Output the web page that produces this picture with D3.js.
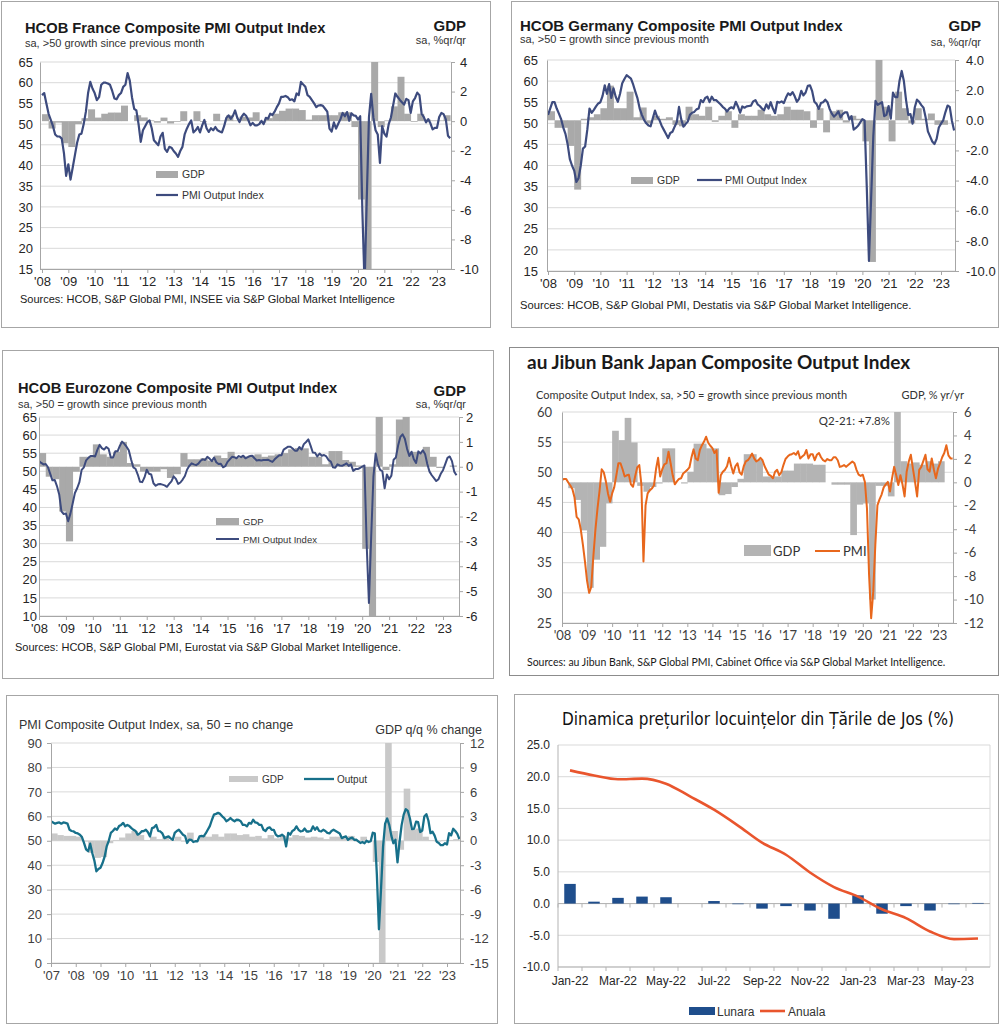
<!DOCTYPE html>
<html>
<head>
<meta charset="utf-8">
<script src="https://cdn.jsdelivr.net/npm/d3@7"></script>
<style>
body { margin: 0; background: #fff; }
</style>
</head>
<body>
<svg id="board" width="1000" height="1024"></svg>
<script>
// ---------- data ----------
// monthly PMI from Jan of start year, quarterly GDP from Q1 of start year
var francePmi = [
    57.0, 57.5, 55.0, 52.5, 51.0, 49.5, 47.5, 47.0, 47.0, 46.5, 43.0, 37.5,
    40.3, 36.6, 39.5, 42.5, 45.5, 47.5, 47.7, 50.0, 53.0, 57.5, 60.2, 58.6,
    57.5, 55.8, 56.5, 59.5, 60.0, 60.0, 59.8, 59.5, 58.0, 56.2, 56.0, 57.0,
    57.5, 59.0, 59.5, 62.3, 60.5, 56.5, 53.7, 53.3, 50.0, 45.7, 48.5, 49.5,
    50.5, 50.9, 49.0, 46.1, 45.5, 44.9, 47.0, 47.9, 44.0, 43.3, 44.5, 44.3,
    43.5, 42.9, 42.1, 43.5, 44.5, 47.5, 48.9, 50.0, 50.9, 48.0, 48.5, 49.3,
    48.0, 49.7, 51.0, 49.0, 48.1, 49.0, 48.5, 49.3, 48.5, 48.2, 48.0, 49.5,
    51.5, 52.1, 51.3, 52.0, 53.3, 51.5, 50.5, 51.8, 52.5, 52.0, 51.0, 49.7,
    50.3, 49.7, 49.7, 50.0, 50.8, 50.0, 51.5, 51.3, 52.5, 52.2, 53.0, 54.1,
    55.0, 56.6, 56.6, 56.8, 56.5, 55.8, 56.0, 55.5, 57.4, 57.0, 60.2, 59.6,
    59.0, 57.0, 56.6, 55.8, 55.0, 54.1, 54.5, 54.6, 54.4, 53.7, 53.0, 48.9,
    48.2, 50.4, 48.9, 50.1, 51.2, 52.7, 51.9, 52.9, 50.8, 52.6, 52.1, 52.0,
    51.1, 51.9, 28.9, 11.1, 32.1, 51.7, 57.3, 51.6, 48.5, 47.5, 40.6, 49.5,
    47.7, 47.0, 50.0, 51.6, 54.5, 57.4, 56.6, 55.9, 55.3, 54.7, 56.1, 55.8,
    52.7, 55.5, 56.3, 57.6, 57.0, 52.5, 51.7, 50.4, 51.2, 50.2, 48.7, 49.1,
    49.1, 51.7, 52.7, 52.4, 51.2, 47.2, 46.6
];
var franceGdp = [
    0.47, -0.5, -0.1, -1.5,   -1.75, -0.2, 0.2, 0.8,    0.24, 0.5, 0.58, 0.58,
    1.05, 0.0, 0.4, 0.25,     0.05, -0.1, 0.24, -0.16,  -0.05, 0.67, 0.0, 0.67,
    -0.05, 0.0, 0.5, 0.05,    0.4, 0.05, 0.3, 0.25,     0.6, -0.1, 0.2, 0.5,
    0.7, 0.85, 0.85, 0.75,    0.1, 0.4, 0.4, 0.4,       0.4, 0.6, 0.6, -0.4,
    -5.3, -13.5, 18.5, -0.4,  0.05, 1.0, 3.0, 0.5,      -0.05, 0.5, 0.1, 0.05,
    0.05, 0.4
];

var germanyPmi = [
    52.0, 53.5, 55.0, 55.0, 53.5, 52.3, 51.0, 49.0, 47.5, 45.0, 41.5, 40.0,
    38.8, 36.1, 37.0, 40.0, 44.0, 44.5, 48.5, 53.5, 52.5, 53.2, 54.0, 54.7,
    55.0, 56.5, 59.0, 57.0, 59.3, 56.0, 58.3, 56.3, 55.1, 57.0, 59.5, 60.5,
    61.4, 61.0, 60.6, 59.2, 57.5, 55.9, 53.5, 52.0, 50.8, 50.0, 49.5, 49.3,
    51.2, 53.0, 51.5, 50.8, 49.5, 48.5, 47.5, 46.5, 47.7, 48.0, 49.2, 50.3,
    53.9, 51.0, 49.2, 49.8, 50.4, 52.0, 52.5, 52.7, 53.3, 53.5, 55.5, 55.0,
    56.0, 56.3, 55.0, 56.3, 55.5, 55.5, 55.0, 54.5, 53.9, 53.5, 52.8, 53.5,
    53.8, 53.5, 55.1, 54.0, 52.5, 54.0, 53.7, 54.0, 54.1, 54.2, 55.2, 55.5,
    54.5, 54.1, 53.5, 53.1, 54.5, 53.5, 55.0, 53.5, 52.4, 55.1, 54.9, 55.2,
    54.8, 56.1, 57.1, 56.7, 57.4, 56.4, 55.1, 55.8, 57.7, 56.6, 57.3, 58.9,
    59.0, 57.6, 55.1, 54.6, 53.4, 54.8, 55.0, 55.6, 55.0, 53.4, 52.3, 51.6,
    52.1, 52.8, 51.4, 52.2, 52.6, 52.6, 50.9, 51.7, 48.5, 48.9, 49.4, 50.2,
    51.0, 50.7, 35.0, 17.4, 32.3, 47.0, 55.3, 54.4, 54.7, 55.0, 51.7, 52.0,
    54.1, 51.1, 57.3, 56.2, 56.2, 60.1, 62.4, 60.0, 55.5, 52.0, 52.2, 49.9,
    53.8, 55.6, 55.1, 54.3, 53.7, 51.3, 48.1, 46.9, 45.7, 45.1, 46.3, 49.0,
    49.9, 50.7, 52.6, 54.2, 53.9, 50.6, 48.3
];
var germanyGdp = [
    0.6, -0.5, -0.5, -1.7,    -4.6, 0.1, 0.2, 0.4,      0.8, 2.3, 0.8, 0.8,
    1.9, 0.2, 0.85, -0.2,     0.3, 0.1, 0.2, -0.3,      -0.4, 0.9, 0.4, 0.3,
    0.9, -0.1, 0.3, 0.6,      -0.5, 0.4, 0.3, 0.3,      0.7, 0.4, 0.3, 0.4,
    0.9, 0.7, 0.7, 0.6,       -0.5, 0.8, -0.8, 0.6,     0.7, -0.15, 0.3, 0.1,
    -1.4, -9.4, 8.5, 0.9,     -1.4, 1.9, 0.8, -0.2,     0.8, 0.1, 0.45, -0.3,
    -0.3, 0.0
];

var eurozonePmi = [
    52.8, 52.3, 51.9, 52.0, 51.1, 49.3, 47.5, 47.6, 45.9, 43.6, 38.9, 38.2,
    38.3, 36.2, 38.3, 41.1, 44.0, 45.3, 47.0, 50.4, 51.1, 53.0, 53.7, 54.2,
    54.2, 54.1, 55.9, 57.3, 56.4, 56.0, 56.7, 56.2, 53.8, 53.8, 55.5, 55.5,
    57.0, 58.2, 57.6, 56.8, 55.8, 53.3, 51.1, 50.7, 49.1, 47.1, 47.0, 48.3,
    50.4, 49.3, 49.1, 46.7, 46.0, 46.4, 46.5, 46.3, 46.1, 45.7, 46.5, 47.2,
    48.6, 47.9, 46.5, 46.9, 47.7, 48.7, 50.5, 51.5, 52.2, 51.9, 51.7, 52.1,
    52.9, 53.3, 53.1, 54.0, 53.5, 52.8, 53.8, 52.5, 52.0, 52.1, 51.1, 51.4,
    52.6, 53.3, 54.0, 53.9, 53.6, 54.2, 53.9, 54.3, 53.6, 53.9, 54.2, 54.3,
    53.6, 53.0, 53.1, 53.0, 53.1, 53.1, 53.2, 52.9, 52.6, 53.3, 53.9, 54.4,
    54.4, 56.0, 56.4, 56.8, 56.8, 56.3, 55.7, 55.7, 56.7, 56.0, 57.5, 58.1,
    58.8, 57.1, 55.2, 55.1, 54.1, 54.9, 54.3, 54.5, 54.1, 53.1, 52.7, 51.1,
    51.0, 51.9, 51.6, 51.5, 51.8, 52.2, 51.5, 51.9, 50.1, 50.6, 50.6, 50.9,
    51.3, 51.6, 29.7, 13.6, 31.9, 48.5, 54.9, 51.9, 50.4, 50.0, 45.3, 49.1,
    47.8, 48.8, 53.2, 53.8, 57.1, 59.5, 60.2, 59.0, 56.2, 54.2, 55.4, 53.3,
    52.3, 55.5, 54.9, 55.8, 54.8, 52.0, 49.9, 48.9, 48.1, 47.3, 47.8, 49.3,
    50.3, 52.0, 53.7, 54.1, 52.8, 49.9, 48.9
];
var eurozoneGdp = [
    0.55, -0.4, -0.5, -1.8,   -3.0, -0.2, 0.4, 0.4,     0.9, 0.5, 0.4, 0.6,
    1.0, 0.15, 0.1, -0.2,     -0.2, -0.2, -0.1, -0.45,  -0.3, 0.55, 0.3, 0.3,
    0.35, 0.25, 0.45, 0.35,   0.6, 0.35, 0.4, 0.45,     0.5, 0.4, 0.45, 0.5,
    0.55, 0.7, 0.75, 0.74,    0.4, 0.4, 0.1, 0.63,      0.63, 0.27, 0.2, 0.05,
    -3.3, -11.5, 12.5, -0.13, 0.1, 1.9, 2.1, 0.6,       0.6, 0.8, 0.4, -0.05,
    0.0, 0.05
];

var japanPmi = [
    48.7, 48.9, 48.9, 48.3, 47.8, 47.2, 45.8, 42.6, 42.2, 40.5, 38.0, 35.2,
    32.0, 30.0, 31.0, 36.0, 40.5, 44.0, 47.0, 50.5, 50.0, 48.5, 46.5, 45.1,
    46.5, 47.5, 49.5, 51.5, 51.5, 50.5, 49.3, 49.5, 49.6, 48.0, 47.6, 49.3,
    50.8, 51.2, 48.0, 35.2, 44.5, 46.5, 47.0, 47.3, 47.8, 50.5, 52.4, 49.3,
    50.5, 51.3, 51.5, 53.4, 51.5, 49.5, 48.0, 48.5, 48.9, 49.0, 49.8, 50.1,
    50.4, 50.8, 52.5, 53.8, 52.3, 52.0, 53.7, 54.5, 55.1, 55.9, 54.9, 54.4,
    54.0, 53.2, 53.7, 46.6, 49.5, 50.1, 50.4, 51.0, 52.4, 51.0, 49.8, 51.0,
    51.5, 50.0, 49.6, 51.0, 51.8, 52.0, 52.5, 53.1, 52.3, 51.8, 52.0, 52.4,
    52.0, 51.0, 50.3, 49.6, 49.4, 49.0, 50.1, 50.4, 49.5, 50.0, 51.2, 52.2,
    52.6, 52.9, 53.0, 53.2, 52.9, 53.5, 52.3, 52.6, 52.9, 53.7, 52.3, 53.0,
    53.0, 52.0, 52.9, 53.2, 52.5, 52.0, 51.8, 52.2, 52.0, 52.0, 52.5, 52.5,
    52.0, 50.9, 51.0, 51.2, 50.9, 51.2, 51.5, 51.8, 51.5, 50.4, 49.6, 49.4,
    49.6, 48.4, 44.0, 33.0, 25.8, 30.2, 38.0, 44.5, 45.5, 46.3, 47.5, 48.0,
    48.4, 46.8, 49.0, 50.9, 49.5, 47.9, 49.5, 48.0, 46.0, 50.1, 51.8, 52.9,
    50.6, 48.4, 46.0, 50.4, 50.9, 51.9, 52.9, 50.5, 50.1, 52.3, 50.5, 49.0,
    50.6, 51.5, 52.5, 53.2, 54.5, 52.8, 52.3, 52.3
];
var japanGdp = [
    0.0, -0.5, -1.5, -4.1,    -9.0, -6.6, -5.5, -1.8,   4.4, 3.6, 5.5, 3.4,
    -0.3, -0.8, -0.4, -0.1,   2.9, 2.9, 0.0, -0.1,      0.9, 3.3, 3.3, 2.9,
    2.9, -1.1, -1.0, -0.4,    0.3, 2.4, 2.4, 1.9,       0.5, 0.5, 0.5, 1.0,
    1.0, 1.6, 1.6, 1.6,       1.5, 1.5, 0.0, -0.2,      -0.2, -0.2, -4.5, -1.9,
    -1.8, -10.0, -0.3, -0.3,  -1.2, 7.8, 1.8, 1.6,      1.7, 1.5, 1.8, 1.6,
    1.8
];

var ukPmi = [
    58.0, 57.5, 57.0, 57.3, 57.5, 57.0, 57.5, 57.3, 57.0, 54.5, 54.0, 53.8,
    53.2, 53.0, 52.5, 51.5, 49.1, 46.5, 45.7, 48.8, 45.0, 42.0, 37.5, 38.5,
    39.0, 40.9, 43.5, 47.7, 50.0, 53.2, 54.0, 55.0, 54.5, 56.0, 56.5, 57.3,
    55.9, 56.5, 56.0, 55.2, 54.5, 54.0, 52.5, 53.0, 53.9, 54.0, 54.5, 53.5,
    51.8, 55.2, 55.5, 56.5, 54.0, 53.8, 53.0, 51.1, 51.5, 51.8, 51.0, 50.4,
    53.2, 54.0, 54.5, 53.5, 52.5, 52.0, 49.1, 50.5, 50.4, 49.5, 49.8, 49.8,
    51.8, 52.0, 51.8, 53.0, 54.5, 56.0, 58.5, 60.7, 61.0, 61.4, 61.0, 60.0,
    59.3, 58.0, 58.5, 59.3, 58.5, 58.0, 58.6, 58.5, 58.0, 56.5, 56.5, 55.9,
    57.3, 57.0, 58.6, 57.5, 57.3, 56.5, 56.5, 54.5, 54.0, 55.2, 55.5, 54.5,
    54.5, 52.5, 51.8, 52.0, 52.5, 51.8, 47.7, 53.2, 52.5, 54.0, 54.5, 55.9,
    54.5, 53.8, 54.0, 55.0, 53.8, 53.8, 54.0, 55.9, 54.5, 55.5, 54.0, 53.8,
    54.5, 54.0, 53.2, 53.0, 54.0, 54.5, 54.0, 53.5, 53.0, 51.1, 51.5, 51.8,
    50.4, 51.0, 51.3, 50.4, 50.5, 49.8, 49.1, 49.5, 49.0, 50.0, 49.5, 49.8,
    53.3, 53.0, 36.0, 13.8, 30.0, 47.7, 57.0, 59.1, 56.5, 52.1, 49.0, 50.4,
    41.2, 49.6, 56.4, 60.7, 62.9, 62.2, 59.2, 54.8, 54.9, 57.8, 57.6, 53.6,
    54.2, 59.9, 60.9, 58.2, 53.1, 53.7, 52.1, 49.6, 49.1, 48.2, 48.2, 49.0,
    48.5, 53.1, 52.2, 54.9, 54.0, 52.8, 50.7
];
var ukGdp = [
    0.9, 0.7, 0.6, 0.6,       0.5, -0.1, -1.5, -2.1,    -2.0, -0.3, 0.1, 0.4,
    0.9, 1.2, 0.7, 0.1,       0.5, 0.2, 0.5, 0.1,       0.5, -0.1, 1.0, 0.0,
    0.6, 0.5, 0.8, 0.5,       0.9, 0.9, 0.7, 0.8,       0.5, 0.6, 0.3, 0.7,
    0.3, 0.6, 0.4, 0.7,       0.6, 0.4, 0.5, 0.4,       0.2, 0.5, 0.5, 0.3,
    0.6, -0.1, 0.5, 0.0,      -2.6, -19.4, 16.9, 1.2,   -1.1, 6.4, 1.4, 1.5,
    0.5, 0.1, -0.1, 0.1,      0.1, 0.2
];

var nlMonths = ["Jan-22", "Feb-22", "Mar-22", "Apr-22", "May-22", "Jun-22",
    "Jul-22", "Aug-22", "Sep-22", "Oct-22", "Nov-22", "Dec-22",
    "Jan-23", "Feb-23", "Mar-23", "Apr-23", "May-23", "Jun-23"];
var nlTickLabels = ["Jan-22", "Mar-22", "May-22", "Jul-22", "Sep-22", "Nov-22", "Jan-23", "Mar-23", "May-23"];
var nlLunara = [3.1, 0.3, 0.9, 1.1, 1.0, 0.0, 0.4, -0.1, -0.8, -0.4, -1.1, -2.4, 1.3, -1.6, -0.4, -1.1, -0.1, 0.1];
var nlAnuala = [21.0, 20.2, 19.6, 19.7, 18.9, 16.9, 14.8, 12.3, 9.6, 7.7, 4.9, 2.6, 1.1, -0.9, -2.3, -4.4, -5.6, -5.5];

// tick values
var yearsFrom08 = [2008, 2009, 2010, 2011, 2012, 2013, 2014, 2015, 2016, 2017, 2018, 2019, 2020, 2021, 2022, 2023];
var yearsFrom07 = [2007, 2008, 2009, 2010, 2011, 2012, 2013, 2014, 2015, 2016, 2017, 2018, 2019, 2020, 2021, 2022, 2023];
var ticks15to65 = [15, 20, 25, 30, 35, 40, 45, 50, 55, 60, 65];
var ticks10to65 = [10, 15, 20, 25, 30, 35, 40, 45, 50, 55, 60, 65];
var ticksGdpFrDe = [-10, -8, -6, -4, -2, 0, 2, 4];
var ticksGdpEz = [-6, -5, -4, -3, -2, -1, 0, 1, 2];
var ticksJpPmi = [25, 30, 35, 40, 45, 50, 55, 60];
var ticksJpGdp = [-12, -10, -8, -6, -4, -2, 0, 2, 4, 6];
var ticksUkPmi = [0, 10, 20, 30, 40, 50, 60, 70, 80, 90];
var ticksUkGdp = [-15, -12, -9, -6, -3, 0, 3, 6, 9, 12];
var ticksNl = [-10, -5, 0, 5, 10, 15, 20, 25];

// ---------- drawing ----------
var ARIAL = "'Liberation Sans', Arial, sans-serif";
var CALIBRI = "Lato, 'Open Sans', sans-serif";

var svg = d3.select("#board");
svg.append("rect").attr("width", 1000).attr("height", 1024).attr("fill", "#fff");

var yearLabel = function(d) { return "'" + String(d).slice(2); };
var numLabel = function(dec) { return function(d) { return d.toFixed(dec); }; };

var addText = function(g, x, y, str, size, opts)
{
    opts = opts || {};
    return g.append("text")
        .attr("x", x)
        .attr("y", y)
        .attr("font-size", size)
        .attr("font-family", opts.font || ARIAL)
        .attr("font-weight", opts.bold ? "bold" : "normal")
        .attr("text-anchor", opts.anchor || "start")
        .attr("fill", opts.color || "#1a1a1a")
        .text(str);
}

var styleAxis = function(sel, p)
{
    sel.attr("font-size", p.tickFont).attr("font-family", p.font);
    sel.select(".domain").attr("stroke", p.axisColor);
    sel.selectAll(".tick line").attr("stroke", p.axisColor);
    sel.selectAll(".tick text").attr("fill", p.tickColor);
}

var drawPmiPanel = function(p)
{
    var g = svg.append("g").classed("panel", true);

    g.append("rect")
        .attr("x", p.box[0] + 0.5)
        .attr("y", p.box[1] + 0.5)
        .attr("width", p.box[2] - p.box[0])
        .attr("height", p.box[3] - p.box[1])
        .attr("fill", "#fff")
        .attr("stroke", p.borderColor);

    var xScale = d3.scaleLinear().domain([p.yearA, p.yearB]).range([p.xA, p.xB]);
    var yLeft = d3.scaleLinear().domain(p.leftDomain).range([p.plot.bottom, p.plot.top]);
    var yRight = d3.scaleLinear().domain(p.rightDomain).range([p.plot.bottom, p.plot.top]);

    // horizontal grid
    g.append("g")
        .selectAll("line")
        .data(p.leftTicks)
        .enter()
        .append("line")
        .attr("x1", p.plot.left)
        .attr("x2", p.plot.right)
        .attr("y1", function(d) { return yLeft(d); })
        .attr("y2", function(d) { return yLeft(d); })
        .attr("stroke", "#D9D9D9");

    var clipId = "clip-" + p.id;
    g.append("clipPath")
        .attr("id", clipId)
        .append("rect")
        .attr("x", p.plot.left)
        .attr("y", p.plot.top)
        .attr("width", p.plot.right - p.plot.left)
        .attr("height", p.plot.bottom - p.plot.top);
    var marks = g.append("g").attr("clip-path", "url(#" + clipId + ")");

    var quarters = p.gdp.map(function(v, i) { return {t: p.gdpStart + i / 4, v: v}; });
    marks.append("g")
        .selectAll("rect")
        .data(quarters)
        .enter()
        .append("rect")
        .attr("x", function(d) { return xScale(d.t); })
        .attr("width", function(d) { return xScale(d.t + 0.25) - xScale(d.t) + 0.4; })
        .attr("y", function(d) { return Math.min(yRight(0), yRight(d.v)); })
        .attr("height", function(d) { return Math.abs(yRight(d.v) - yRight(0)); })
        .attr("fill", p.barColor);

    var months = p.pmi.map(function(v, i) { return {t: p.pmiStart + i / 12, v: v}; });
    var line = d3.line()
        .x(function(d) { return xScale(d.t); })
        .y(function(d) { return yLeft(d.v); });
    marks.append("path")
        .datum(months)
        .attr("d", line)
        .attr("fill", "none")
        .attr("stroke", p.lineColor)
        .attr("stroke-width", p.lineWidth)
        .attr("stroke-linejoin", "round");

    // axes
    var leftAxis = d3.axisLeft(yLeft)
        .tickValues(p.leftTicks)
        .tickSize(p.leftTickSize)
        .tickSizeOuter(0)
        .tickPadding(p.leftPad);
    g.append("g")
        .attr("transform", "translate(" + p.plot.left + ",0)")
        .call(leftAxis)
        .call(styleAxis, p);

    var rightAxis = d3.axisRight(yRight)
        .tickValues(p.rightTicks)
        .tickFormat(numLabel(p.rightDec))
        .tickSize(4)
        .tickSizeOuter(0)
        .tickPadding(p.rightPad);
    g.append("g")
        .attr("transform", "translate(" + p.plot.right + ",0)")
        .call(rightAxis)
        .call(styleAxis, p);

    var bottomAxis = d3.axisBottom(xScale)
        .tickValues(p.years)
        .tickFormat(yearLabel)
        .tickSize(4)
        .tickSizeOuter(0)
        .tickPadding(p.bottomPad);
    var gb = g.append("g")
        .attr("transform", "translate(0," + p.plot.bottom + ")")
        .call(bottomAxis)
        .call(styleAxis, p);
    gb.select(".domain").remove();
    g.append("line")
        .attr("x1", p.plot.left)
        .attr("x2", p.plot.right)
        .attr("y1", p.plot.bottom + 0.5)
        .attr("y2", p.plot.bottom + 0.5)
        .attr("stroke", p.axisColor);

    // legend
    var lg = p.legend;
    g.append("rect")
        .attr("x", lg.bar[0]).attr("y", lg.bar[1])
        .attr("width", lg.bar[2]).attr("height", lg.bar[3])
        .attr("fill", p.barColor);
    addText(g, lg.barText[0], lg.barText[1], lg.labels[0], lg.size, {font: p.font, color: "#333"});
    g.append("line")
        .attr("x1", lg.line[0]).attr("x2", lg.line[1])
        .attr("y1", lg.line[2]).attr("y2", lg.line[2])
        .attr("stroke", p.lineColor)
        .attr("stroke-width", p.lineWidth);
    addText(g, lg.lineText[0], lg.lineText[1], lg.labels[1], lg.size, {font: p.font, color: "#333"});

    p.texts.forEach(function(t)
    {
        addText(g, t.x, t.y, t.s, t.size, {font: p.font, bold: t.bold, anchor: t.anchor, color: t.color});
    });
}

var basePanel = {
    font: ARIAL, tickFont: 13, tickColor: "#262626", axisColor: "#A6A6A6",
    borderColor: "#A6A6A6", lineWidth: 2.2, leftTickSize: 0, bottomPad: 4
};

drawPmiPanel(Object.assign({}, basePanel, {
    id: "fr",
    box: [1, 1, 490, 327],
    plot: {left: 40, right: 451, top: 62, bottom: 269},
    yearA: 2008, xA: 42, yearB: 2023, xB: 437, years: yearsFrom08,
    leftDomain: [15, 65], leftTicks: ticks15to65, leftPad: 7,
    rightDomain: [-10, 4], rightTicks: ticksGdpFrDe, rightDec: 0, rightPad: 5,
    pmi: francePmi, pmiStart: 2008, gdp: franceGdp, gdpStart: 2008,
    lineColor: "#3D4B7E", barColor: "#A9A9A9",
    legend: {bar: [156, 171, 22, 7], barText: [182, 178], line: [156, 178, 195],
             lineText: [182, 199], size: 10.5, labels: ["GDP", "PMI Output Index"]},
    texts: [
        {x: 25, y: 33, s: "HCOB France Composite PMI Output Index", size: 14.7, bold: true},
        {x: 25, y: 47, s: "sa, >50 growth since previous month", size: 11, color: "#333"},
        {x: 466, y: 31, s: "GDP", size: 15, bold: true, anchor: "end"},
        {x: 466, y: 44, s: "sa, %qr/qr", size: 11, anchor: "end", color: "#333"},
        {x: 20, y: 303, s: "Sources: HCOB, S&P Global PMI, INSEE via S&P Global Market Intelligence", size: 11}
    ]
}));

drawPmiPanel(Object.assign({}, basePanel, {
    id: "de",
    box: [511, 1, 998, 327],
    plot: {left: 547, right: 955, top: 60, bottom: 271},
    yearA: 2008, xA: 548, yearB: 2023, xB: 941, years: yearsFrom08,
    leftDomain: [15, 65], leftTicks: ticks15to65, leftPad: 9,
    rightDomain: [-10, 4], rightTicks: ticksGdpFrDe, rightDec: 1, rightPad: 7,
    pmi: germanyPmi, pmiStart: 2008, gdp: germanyGdp, gdpStart: 2008,
    lineColor: "#3D4B7E", barColor: "#A9A9A9",
    legend: {bar: [631, 177, 22, 7], barText: [657, 184], line: [697, 722, 180],
             lineText: [725, 184], size: 10.5, labels: ["GDP", "PMI Output Index"]},
    texts: [
        {x: 520, y: 31, s: "HCOB Germany Composite PMI Output Index", size: 15, bold: true},
        {x: 520, y: 43, s: "sa, >50 = growth since previous month", size: 11, color: "#333"},
        {x: 981, y: 31, s: "GDP", size: 15, bold: true, anchor: "end"},
        {x: 981, y: 46, s: "sa, %qr/qr", size: 11, anchor: "end", color: "#333"},
        {x: 520, y: 309, s: "Sources: HCOB, S&P Global PMI, Destatis via S&P Global Market Intelligence.", size: 11.2}
    ]
}));

drawPmiPanel(Object.assign({}, basePanel, {
    id: "ez",
    lineWidth: 2,
    box: [2, 350, 493, 678],
    plot: {left: 39, right: 459, top: 417, bottom: 616},
    yearA: 2008, xA: 39, yearB: 2023, xB: 443, years: yearsFrom08,
    leftDomain: [10, 65], leftTicks: ticks10to65, leftPad: 2,
    rightDomain: [-6, 2], rightTicks: ticksGdpEz, rightDec: 0, rightPad: 3,
    pmi: eurozonePmi, pmiStart: 2008, gdp: eurozoneGdp, gdpStart: 2008,
    lineColor: "#3D4B7E", barColor: "#A9A9A9",
    legend: {bar: [216, 518, 23, 7], barText: [243, 525], line: [216, 239, 539],
             lineText: [243, 543], size: 9.5, labels: ["GDP", "PMI Output Index"]},
    texts: [
        {x: 18, y: 393, s: "HCOB Eurozone Composite PMI Output Index", size: 14.7, bold: true},
        {x: 18, y: 408, s: "sa, >50 = growth since previous month", size: 11, color: "#333"},
        {x: 466, y: 396, s: "GDP", size: 15, bold: true, anchor: "end"},
        {x: 466, y: 408, s: "sa, %qr/qr", size: 11, anchor: "end", color: "#333"},
        {x: 15, y: 651, s: "Sources: HCOB, S&P Global PMI, Eurostat via S&P Global Market Intelligence.", size: 11}
    ]
}));

drawPmiPanel(Object.assign({}, basePanel, {
    id: "jp",
    font: CALIBRI, tickColor: "#404040", borderColor: "#8C8C8C", lineWidth: 2,
    box: [509, 347, 998, 675],
    plot: {left: 562, right: 953, top: 412, bottom: 623},
    yearA: 2008, xA: 562, yearB: 2023, xB: 938, years: yearsFrom08,
    leftDomain: [25, 60], leftTicks: ticksJpPmi, leftPad: 10,
    rightDomain: [-12, 6], rightTicks: ticksJpGdp, rightDec: 0, rightPad: 7,
    pmi: japanPmi, pmiStart: 2008, gdp: japanGdp, gdpStart: 2008,
    lineColor: "#E8671C", barColor: "#B4B4B4",
    legend: {bar: [744, 545, 27, 11], barText: [773, 556], line: [815, 840, 551],
             lineText: [843, 556], size: 13, labels: ["GDP", "PMI"]},
    texts: [
        {x: 527, y: 369, s: "au Jibun Bank Japan Composite Output Index", size: 19, bold: true},
        {x: 536, y: 399, s: "Composite Output Index, sa, >50 = growth since previous month", size: 11, color: "#333"},
        {x: 964, y: 399, s: "GDP, % yr/yr", size: 11, anchor: "end", color: "#333"},
        {x: 890, y: 425, s: "Q2-21: +7.8%", size: 11.5, anchor: "end", color: "#333"},
        {x: 527, y: 666, s: "Sources: au Jibun Bank, S&P Global PMI, Cabinet Office via S&P Global Market Intelligence.", size: 10.5}
    ]
}));

drawPmiPanel(Object.assign({}, basePanel, {
    id: "uk",
    tickColor: "#404040",
    box: [6, 695, 497, 1023],
    plot: {left: 51, right: 460, top: 743, bottom: 963},
    yearA: 2007, xA: 51, yearB: 2023, xB: 447, years: yearsFrom07,
    leftDomain: [0, 90], leftTicks: ticksUkPmi, leftTickSize: 4, leftPad: 5,
    rightDomain: [-15, 12], rightTicks: ticksUkGdp, rightDec: 0, rightPad: 6,
    pmi: ukPmi, pmiStart: 2007, gdp: ukGdp, gdpStart: 2007,
    lineColor: "#17708A", lineWidth: 2.3, barColor: "#C9C9C9",
    legend: {bar: [229, 776, 29, 6], barText: [262, 783], line: [304, 334, 779],
             lineText: [337, 783], size: 10, labels: ["GDP", "Output"]},
    texts: [
        {x: 19, y: 729, s: "PMI Composite Output Index, sa, 50 = no change", size: 12.5, color: "#333"},
        {x: 482, y: 734, s: "GDP q/q % change", size: 12.5, anchor: "end", color: "#333"}
    ]
}));

// ---------- Netherlands house prices ----------
var drawNlPanel = function()
{
    var box = [514, 694, 998, 1023];
    var plot = {left: 558, right: 990, top: 745, bottom: 967};
    var g = svg.append("g").classed("panel", true);

    g.append("rect")
        .attr("x", box[0] + 0.5).attr("y", box[1] + 0.5)
        .attr("width", box[2] - box[0]).attr("height", box[3] - box[1])
        .attr("fill", "#fff").attr("stroke", "#A6A6A6");

    var xScale = d3.scaleBand().domain(nlMonths).range([plot.left, plot.right]);
    var yScale = d3.scaleLinear().domain([-10, 25]).range([plot.bottom, plot.top]);

    g.append("g")
        .selectAll("line")
        .data(ticksNl)
        .enter()
        .append("line")
        .attr("x1", plot.left).attr("x2", plot.right)
        .attr("y1", function(d) { return yScale(d); })
        .attr("y2", function(d) { return yScale(d); })
        .attr("stroke", "#D9D9D9");

    g.append("line")
        .attr("x1", plot.left).attr("x2", plot.left)
        .attr("y1", plot.top).attr("y2", plot.bottom)
        .attr("stroke", "#B3B3B3");
    g.append("line")
        .attr("x1", plot.right).attr("x2", plot.right)
        .attr("y1", plot.top).attr("y2", plot.bottom)
        .attr("stroke", "#D9D9D9");

    var leftAxis = d3.axisLeft(yScale)
        .tickValues(ticksNl)
        .tickFormat(numLabel(1))
        .tickSize(0)
        .tickPadding(8);
    g.append("g")
        .attr("transform", "translate(" + plot.left + ",0)")
        .call(leftAxis)
        .call(styleAxis, {font: ARIAL, tickFont: 12, axisColor: "#B3B3B3", tickColor: "#262626"})
        .select(".domain").remove();

    // zero line and bottom line with category separators
    [0, -10].forEach(function(v)
    {
        var yv = yScale(v);
        g.append("line")
            .attr("x1", plot.left).attr("x2", plot.right)
            .attr("y1", yv).attr("y2", yv)
            .attr("stroke", "#B3B3B3");
        g.append("g")
            .selectAll("line")
            .data(nlMonths)
            .enter()
            .append("line")
            .attr("x1", function(d) { return xScale(d); })
            .attr("x2", function(d) { return xScale(d); })
            .attr("y1", yv).attr("y2", yv + 4)
            .attr("stroke", "#B3B3B3");
    });

    var bottomAxis = d3.axisBottom(xScale)
        .tickValues(nlTickLabels)
        .tickSize(0)
        .tickPadding(9);
    g.append("g")
        .attr("transform", "translate(0," + plot.bottom + ")")
        .call(bottomAxis)
        .call(styleAxis, {font: ARIAL, tickFont: 12, axisColor: "#B3B3B3", tickColor: "#262626"})
        .select(".domain").remove();

    var barW = 11.5;
    g.append("g")
        .selectAll("rect")
        .data(nlLunara)
        .enter()
        .append("rect")
        .attr("x", function(d, i) { return xScale(nlMonths[i]) + xScale.bandwidth() / 2 - barW / 2; })
        .attr("width", barW)
        .attr("y", function(d) { return Math.min(yScale(0), yScale(d)); })
        .attr("height", function(d) { return Math.abs(yScale(d) - yScale(0)); })
        .attr("fill", "#1F4E8C");

    var line = d3.line()
        .x(function(d, i) { return xScale(nlMonths[i]) + xScale.bandwidth() / 2; })
        .y(function(d) { return yScale(d); })
        .curve(d3.curveMonotoneX);
    g.append("path")
        .datum(nlAnuala)
        .attr("d", line)
        .attr("fill", "none")
        .attr("stroke", "#E9552D")
        .attr("stroke-width", 2.6);

    addText(g, 758, 725, "Dinamica prețurilor locuințelor din Țările de Jos (%)", 17,
        {font: "'Liberation Sans Narrow', 'DejaVu Sans Condensed', 'Roboto Condensed', sans-serif",
         anchor: "middle", color: "#111"});

    g.append("rect").attr("x", 689).attr("y", 1007).attr("width", 26).attr("height", 8).attr("fill", "#1F4E8C");
    addText(g, 717, 1016, "Lunara", 12, {color: "#333"});
    g.append("line").attr("x1", 760).attr("x2", 785).attr("y1", 1011).attr("y2", 1011)
        .attr("stroke", "#E9552D").attr("stroke-width", 2.6);
    addText(g, 788, 1016, "Anuala", 12, {color: "#333"});
}

drawNlPanel();
</script>
</body>
</html>
